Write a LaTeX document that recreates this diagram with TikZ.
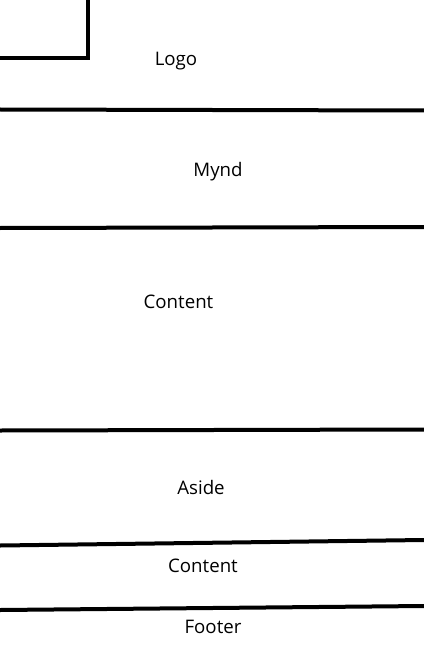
\documentclass[tikz,border=0pt]{standalone}
\usepackage{fontspec}
\setmainfont{Open Sans}
\usetikzlibrary{positioning}

\begin{document}
\begin{tikzpicture}[x=0.75pt, y=-0.75pt,
    divider/.style={line width=3pt},
    areatext/.style={font=\fontsize{14}{16}\selectfont, inner sep=0pt, anchor=base}]
    \useasboundingbox (0,0) rectangle (424,656);
    % Logo corner
    \coordinate (cornertop) at (88,0);
    \coordinate (cornerbend) at (88,58);
    \coordinate (cornerleft) at (0,58);
    \draw[divider] (cornertop) -- (cornerbend) -- (cornerleft);
    % Dividers
    \coordinate (d1l) at (0,109.5);  \coordinate (d1r) at (424,110.5);
    \coordinate (d2l) at (0,228);    \coordinate (d2r) at (424,227);
    \coordinate (d3l) at (0,430.5);  \coordinate (d3r) at (424,429.5);
    \coordinate (d4l) at (0,545.5);  \coordinate (d4r) at (424,540);
    \coordinate (d5l) at (0,610);    \coordinate (d5r) at (424,606);
    \foreach \d in {d1,d2,d3,d4,d5}
        \draw[divider] (\d l) -- (\d r);
    % Nodes
    \node (logo) [areatext] at (176,66) {Logo};
    \node (mynd) [areatext] at (218,176) {Mynd};
    \node (content) [areatext] at (178.5,308.3) {Content};
    \node (aside) [areatext] at (201,494) {Aside};
    \node (content2) [areatext] at (203,572) {Content};
    \node (footer) [areatext] at (213,633) {Footer};
\end{tikzpicture}
\end{document}
